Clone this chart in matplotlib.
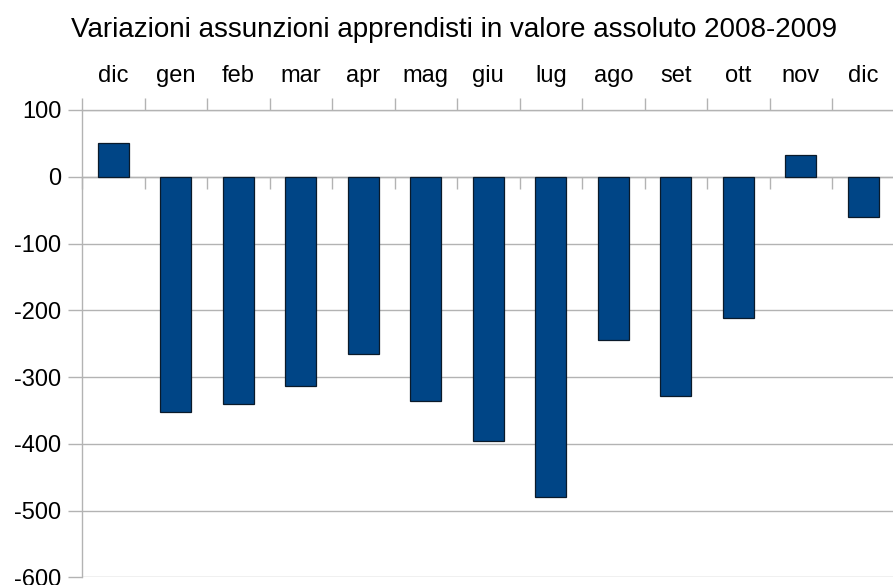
import matplotlib.pyplot as plt
import numpy as np

# months Dec 2008 .. Dec 2009
months = ["dic", "gen", "feb", "mar", "apr", "mag", "giu",
          "lug", "ago", "set", "ott", "nov", "dic"]
variazioni = [50, -353, -340, -313, -265, -336, -396,
              -480, -245, -329, -211, 33, -61]
y_ticks = [100, 0, -100, -200, -300, -400, -500, -600]

plt.rcParams['font.family'] = ['Liberation Sans', 'DejaVu Sans']

grid_col = "#b3b3b3"
bar_col = "#004586"

fig = plt.figure(figsize=(8.93, 5.85), dpi=100)
ax = fig.add_axes([82 / 893, 7.7 / 585, 812.5 / 893, 467.3 / 585])

x = np.arange(len(months))
ax.bar(x, variazioni, width=0.5, color=bar_col, edgecolor="#0a1a2a",
       linewidth=0.9, zorder=3)

ax.set_xlim(-0.5, len(months) - 0.5)
ax.set_ylim(-600, 100)

# y axis
ax.set_yticks(y_ticks)
ax.set_yticklabels([str(v) for v in y_ticks], fontsize=17)
ax.tick_params(axis="y", direction="out", length=10, width=1,
               color=grid_col, pad=5)
ax.yaxis.grid(True, color=grid_col, linewidth=1, zorder=0)

# category axis: labels on top, boundary ticks at top and along zero line
bounds = np.arange(len(months) + 1) - 0.5
ax.xaxis.set_ticks_position("both")
ax.set_xticks(x)
ax.set_xticks(bounds, minor=True)
ax.set_xticklabels(months)
ax.tick_params(axis="x", which="major", length=0, labeltop=True,
               labelbottom=False, labelsize=17, pad=16.5)
ax.tick_params(axis="x", which="minor", direction="out", length=8.6,
               width=1, color=grid_col, top=True, bottom=True)
ax.spines["bottom"].set_position(("data", 0))

for side in ["left", "top", "bottom"]:
    ax.spines[side].set_color(grid_col)
    ax.spines[side].set_linewidth(1)
ax.spines["right"].set_visible(False)

fig.text(454 / 893, 1 - 30 / 585,
         "Variazioni assunzioni apprendisti in valore assoluto 2008-2009",
         ha="center", va="center", fontsize=20)

fig.savefig("out.png", dpi=100)
